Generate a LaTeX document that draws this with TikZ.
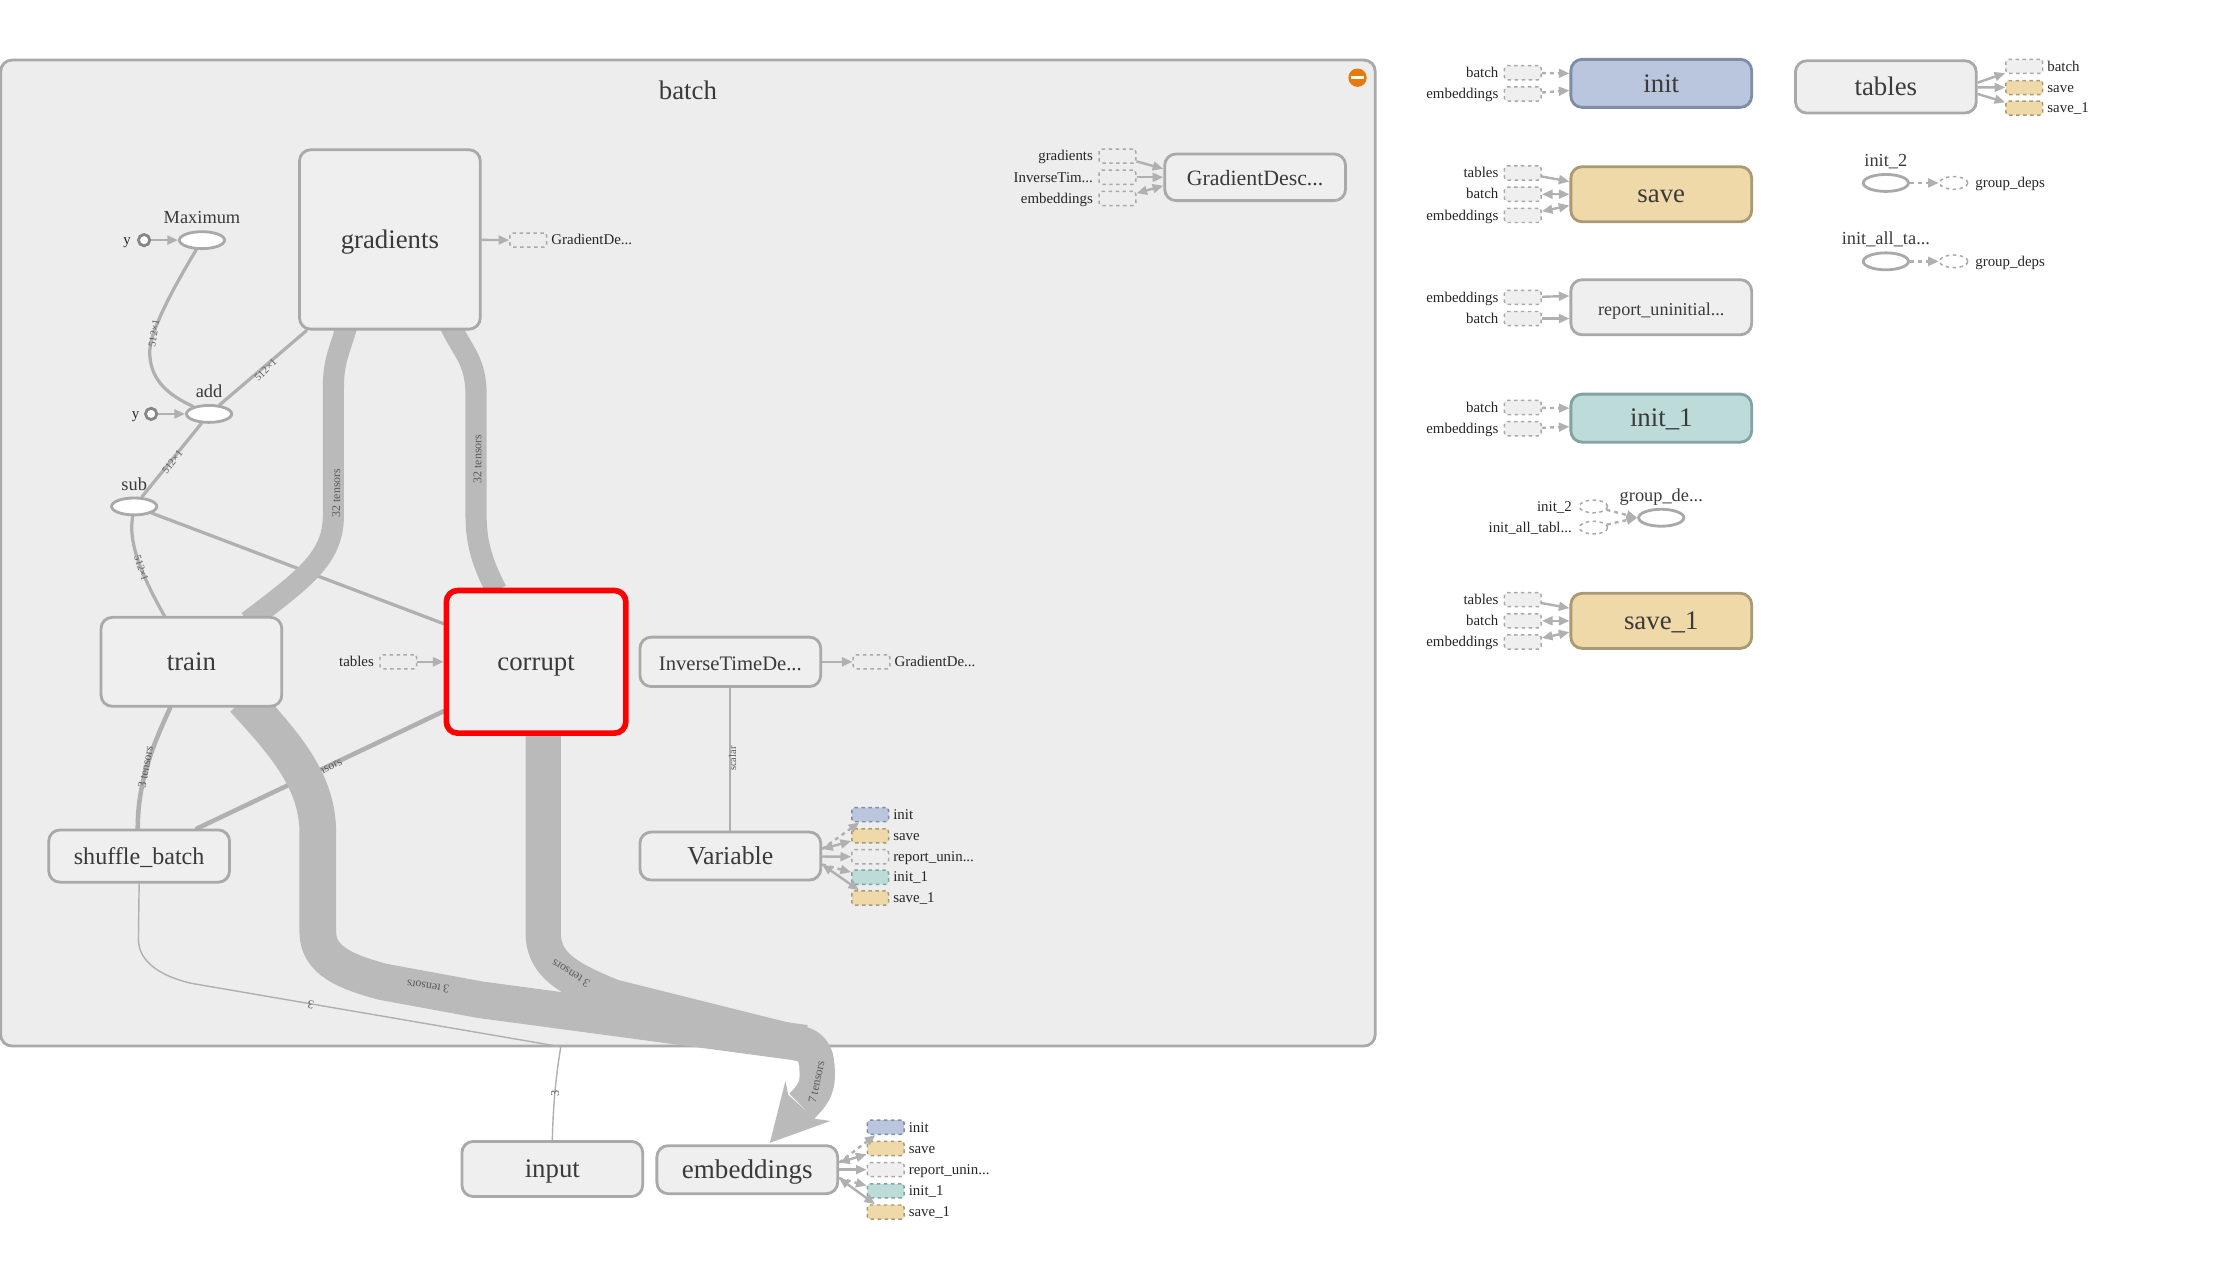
\documentclass[tikz,border=0pt]{standalone}
\usepackage{fontspec}
\setmainfont{Liberation Serif}
\usetikzlibrary{arrows.meta,calc,shapes.geometric}
\pgfdeclarelayer{bgl}\pgfdeclarelayer{thinl}\pgfdeclarelayer{bandl}
\pgfsetlayers{bgl,thinl,bandl,main}
\def\pxu{0.02cm}
\newcommand{\fsz}[1]{\fontsize{#1}{#1}\selectfont}
\definecolor{edgec}{HTML}{B0B0B0}
\definecolor{bandc}{HTML}{BABABA}
\definecolor{strokec}{HTML}{A9A9A9}
\definecolor{nodef}{HTML}{EFEFEF}
\definecolor{batchf}{HTML}{EDEDED}
\definecolor{initf}{HTML}{B9C6DE}\definecolor{inits}{HTML}{7E8CA8}
\definecolor{savef}{HTML}{F0D9A8}\definecolor{saves}{HTML}{A99A76}
\definecolor{inita}{HTML}{BCDBD9}\definecolor{initas}{HTML}{83A3A3}
\definecolor{txtc}{HTML}{3A3A3A}
\definecolor{lblc}{HTML}{5A5A5A}
\tikzset{
 x=0.02cm,y=-0.02cm,
 opbox/.style={draw=strokec,fill=nodef,rounded corners=8*\pxu,line width=2*\pxu,inner sep=0pt,text=txtc,align=center,minimum width=128*\pxu,text height=0.7em,text depth=0pt},
 oval/.style={ellipse,draw=strokec,fill=white,line width=2*\pxu,inner sep=0pt,minimum width=32*\pxu,minimum height=12*\pxu},
 constc/.style={circle,draw=black!47,fill=white,line width=2*\pxu,inner sep=0pt,minimum size=8*\pxu},
 dbox/.style={draw=strokec,dashed,dash pattern=on 1.4pt off 1.4pt,line width=0.6pt,rounded corners=2*\pxu,inner sep=0pt,minimum width=26*\pxu,minimum height=10*\pxu},
 dell/.style={ellipse,draw=strokec,fill=white,dash pattern=on 1.4pt off 1.4pt,line width=0.6pt,inner sep=0pt,minimum width=20*\pxu,minimum height=9*\pxu},
 small/.style={inner sep=0pt,font=\fsz{6},text=black!85,text height=0.68em,text depth=0.3em},
 opl/.style={inner sep=0pt,font=\fsz{7.4},text=txtc,text height=0.68em,text depth=0.1em},
 elab/.style={inner sep=0pt,font=\fsz{4.8},text=lblc},
 elabs/.style={inner sep=0pt,font=\fsz{4.2},text=lblc},
 thinedge/.style={draw=edgec,line width=2.3*\pxu,line cap=round},
 band/.style={draw=bandc,line join=round},
 arr/.style={draw=edgec,line width=1.7*\pxu,-{Triangle[length=0.15cm,width=0.125cm]}},
 arrboth/.style={draw=edgec,line width=1.7*\pxu,{Triangle[length=0.15cm,width=0.125cm]}-{Triangle[length=0.15cm,width=0.125cm]}},
 arrdot/.style={draw=edgec,line width=1.7*\pxu,dash pattern=on 1.6pt off 1.6pt,-{Triangle[length=0.15cm,width=0.125cm,sep=0pt]}},
}
% #1 name, #2 x of box centre, #3 y, #4 box style, #5 text: label to the left / right of box
\newcommand{\ldep}[5]{\node[dbox,#4] (#1) at (#2,#3) {};
 \node[small,anchor=east] (#1t) at (#2-17,#3) {#5};}
\newcommand{\rdep}[5]{\node[dbox,#4] (#1) at (#2,#3) {};
 \node[small,anchor=west] (#1t) at (#2+16,#3) {#5};}
\tikzset{
 fgrey/.style={fill=nodef},
 fback/.style={fill=batchf},
 finit/.style={fill=initf,draw=inits},
 fsave/.style={fill=savef,draw=saves},
 finita/.style={fill=inita,draw=initas},
}
\begin{document}
\begin{tikzpicture}
\useasboundingbox (0,0) rectangle (1568,908.2);
\begin{pgfonlayer}{bgl}
\node[draw=strokec,fill=batchf,rounded corners=8*\pxu,line width=2*\pxu,minimum width=973*\pxu,minimum height=698*\pxu,inner sep=0pt] (batch) at (487,391.5) {};
\end{pgfonlayer}
\node[inner sep=0pt,font=\fsz{10.8},text=txtc] (batchl) at (487,64) {batch};
\node[circle,fill=orange!90!black!95,minimum size=13*\pxu,inner sep=0pt] (collapse) at (961,55) {};
\node[fill=white,minimum width=9*\pxu,minimum height=2.5*\pxu,inner sep=0pt] (collapsebar) at (961,55) {};

% main operator boxes
\node[opbox,minimum height=127*\pxu,font=\fsz{10.8}] (gradients) at (276,169.5) {gradients};
\node[opbox,minimum height=63*\pxu,font=\fsz{10.8}] (train) at (135.5,468.5) {train};
\node[opbox,draw=red,line width=4*\pxu,minimum height=101*\pxu,font=\fsz{10.8},minimum width=127*\pxu] (corrupt) at (379.5,468.5) {corrupt};
\node[opbox,minimum height=35*\pxu,font=\fsz{8.3}] (inverse) at (517,468.5) {InverseTimeDe...};
\node[opbox,minimum height=37*\pxu,font=\fsz{9.7}] (shuffle) at (98.5,606) {shuffle\_batch};
\node[opbox,minimum height=34*\pxu,font=\fsz{10.4}] (variable) at (517,606) {Variable};
\node[opbox,minimum height=39*\pxu,font=\fsz{10.8}] (input) at (391,827.5) {input};
\node[opbox,minimum height=34*\pxu,font=\fsz{10.9}] (embeddings) at (529,828) {embeddings};
\node[opbox,minimum height=33*\pxu,font=\fsz{8.8}] (gdesc) at (888.5,125.5) {GradientDesc...};

% right column
\node[opbox,fill=initf,draw=inits,minimum height=34*\pxu,font=\fsz{10.8}] (init) at (1176,59) {init};
\node[opbox,fill=savef,draw=saves,minimum height=39*\pxu,font=\fsz{10.8}] (save) at (1176,137.5) {save};
\node[opbox,minimum height=39*\pxu,font=\fsz{7.3}] (report) at (1176,217.5) {report\_uninitial...};
\node[opbox,fill=inita,draw=initas,minimum height=34*\pxu,font=\fsz{10.8}] (inita) at (1176,296) {init\_1};
\node[opbox,fill=savef,draw=saves,minimum height=39*\pxu,font=\fsz{10.8}] (savea) at (1176,439.5) {save\_1};
\node[opbox,minimum height=37*\pxu,font=\fsz{10.8}] (tables) at (1335,61.5) {tables};

% ovals
\node[oval] (maximum) at (143,170) {};
\node[opl,font=\fsz{7.4}] (maximuml) at (143,153) {Maximum};
\node[oval] (add) at (148,293) {};
\node[opl] (addl) at (148,276) {add};
\node[oval] (sub) at (95,358.5) {};
\node[opl] (subl) at (95,342) {sub};
\node[constc] (y1) at (102,170) {};
\node[small,anchor=east] (y1l) at (93,170) {y};
\node[constc] (y2) at (107,293) {};
\node[small,anchor=east] (y2l) at (99,293) {y};
\node[oval] (groupdeps) at (1176,366.5) {};
\node[opl] (groupdepsl) at (1176,350) {group\_de...};
\node[oval] (initb) at (1335,129.5) {};
\node[opl] (initbl) at (1335,113) {init\_2};
\node[oval] (initall) at (1335,185) {};
\node[opl] (initalll) at (1335,168) {init\_all\_ta...};

% batch side nodes
\rdep{gd1}{374}{170}{fback}{GradientDe...}
\rdep{gd2}{617}{468.5}{fback}{GradientDe...}
\ldep{tab}{282}{468.5}{fback}{tables}
\ldep{gi1}{791}{110.5}{fback}{gradients}
\ldep{gi2}{791}{125.5}{fback}{InverseTim...}
\ldep{gi3}{791}{140.5}{fback}{embeddings}
\rdep{va}{616}{576.7}{finit}{init}
\rdep{vb}{616}{591.7}{fsave}{save}
\rdep{vc}{616}{606.5}{fback}{report\_unin...}
\rdep{vd}{616}{621}{finita}{init\_1}
\rdep{ve}{616}{635.7}{fsave}{save\_1}
\rdep{ea}{627}{798}{finit}{init}
\rdep{eb}{627}{813}{fsave}{save}
\rdep{ec}{627}{828}{fgrey}{report\_unin...}
\rdep{ed}{627}{843}{finita}{init\_1}
\rdep{ee}{627}{858}{fsave}{save\_1}
% right column side nodes
\ldep{ia}{1078}{51.5}{fgrey}{batch}
\ldep{ib}{1078}{66.5}{fgrey}{embeddings}
\ldep{sa}{1078}{122.5}{fgrey}{tables}
\ldep{sb}{1078}{137.5}{fgrey}{batch}
\ldep{sc}{1078}{152.5}{fgrey}{embeddings}
\ldep{ra}{1078}{210.5}{fgrey}{embeddings}
\ldep{rb}{1078}{225.5}{fgrey}{batch}
\ldep{ja}{1078}{288.5}{fgrey}{batch}
\ldep{jb}{1078}{303.5}{fgrey}{embeddings}
\ldep{ta}{1078}{424.5}{fgrey}{tables}
\ldep{tb}{1078}{439.5}{fgrey}{batch}
\ldep{tc}{1078}{454.5}{fgrey}{embeddings}
\rdep{ba}{1433}{47}{fgrey}{batch}
\rdep{bb}{1433}{62}{fsave}{save}
\rdep{bc}{1433}{76.5}{fsave}{save\_1}
\node[dell] (ga) at (1128,358.5) {};
\node[small,anchor=east] (gat) at (1113,358.5) {init\_2};
\node[dell] (gb) at (1128,373.5) {};
\node[small,anchor=east] (gbt) at (1113,373.5) {init\_all\_tabl...};
\node[dell] (hd) at (1383,129.5) {};
\node[small,anchor=west] (hdt) at (1398,129.5) {group\_deps};
\node[dell] (hf) at (1383,185) {};
\node[small,anchor=west] (hft) at (1398,185) {group\_deps};

% thin edges (under the bands)
\begin{pgfonlayer}{thinl}
\draw[thinedge] (maximum) .. controls (125,200) and (105,235) .. (106,251) .. controls (107,270) and (120,280) .. (add);
\draw[thinedge] (gradients.south west) ++(6,0) -- (add);
\draw[thinedge] (add) -- (sub);
\draw[thinedge] (sub) .. controls (92,378) and (93,395) .. (117,437);
\draw[thinedge] (sub) -- ($(corrupt.west)+(0,-27)$);
\draw[thinedge,line width=3.2*\pxu] ($(train.south)+(-15,0)$) .. controls (107,530) and (97.5,555) .. ($(shuffle.north)+(-1,0)$);
\draw[thinedge,line width=3.2*\pxu] ($(corrupt.west)+(0,35)$) -- ($(shuffle.north)+(41,0)$);
\draw[draw=edgec,line width=1*\pxu] (shuffle.south) -- (98,665) .. controls (98,682) and (116,691.5) .. (135,696) -- (397,741) .. controls (393,765) and (391.5,785) .. (input.north);
\draw[draw=edgec,line width=1.2*\pxu] (inverse.south) -- (variable.north);
\node[elabs,rotate=202] (lsubcorrupt) at (218,403) {512×1};
\node[elab,rotate=26] (lcorruptshuffle) at (228,545) {3 tensors};
\end{pgfonlayer}

% bands
\begin{pgfonlayer}{bandl}
\draw[band,line width=15*\pxu] ($(gradients.south)+(-30,-5)$) .. controls (240,250) and (236,255) .. (236,275) -- (236,365) .. controls (236,395) and (215,410) .. ($(train.north)+(40,4)$);
\draw[band,line width=15*\pxu] ($(gradients.south)+(42,-5)$) .. controls (328,250) and (337,255) .. (337,280) -- (337,365) .. controls (337,385) and (342,400) .. ($(corrupt.north)+(-28,2)$);
\draw[band,line width=26*\pxu] ($(train.south)+(37,-6)$) .. controls (205,530) and (225,555) .. (225,590) -- (225,660) .. controls (225,680) and (245,688) .. (271,695) -- (340,707.7) -- (570,738.5);
\draw[band,line width=25*\pxu] ($(corrupt.south)+(5,-8)$) -- (384.5,660) .. controls (384.5,682) and (400,692) .. (434,705.7) -- (565,738.4) .. controls (578,741) and (578.5,750) .. (578.5,762) .. controls (578.5,770) and (575,776) .. (567.5,783);
\coordinate (headtip) at ($(embeddings.north)+(16,-1)$);
\fill[bandc] (556,765.2) -- (558,775) -- (577,792) -- (588,793.5) -- (headtip) -- cycle;
\end{pgfonlayer}

% edge labels
\node[elabs,rotate=80] (l1) at (109,236) {512×1};
\node[elabs,rotate=45] (l2) at (188,262) {512×1};
\node[elabs,rotate=52] (l3) at (122,327) {512×1};
\node[elabs,rotate=-72] (l4) at (100,402) {512×1};
\node[elab,rotate=90] (l5) at (238,349) {32 tensors};
\node[elab,rotate=90] (l6) at (338,325) {32 tensors};
\node[elab,rotate=80] (l7) at (103,543) {3 tensors};
\node[elabs,rotate=90] (l8) at (518.5,537) {scalar};
\node[elab,rotate=172] (l9) at (303,698.5) {3 tensors};
\node[elab,rotate=148] (l10) at (404,689) {3 tensors};
\node[elab,rotate=78] (l11) at (578,766) {7 tensors};
\node[elab,rotate=170] (l12) at (220,711) {3};
\node[elab,rotate=88] (l13) at (393,774) {3};

% dependency arrows
\draw[arr] (y1) -- (maximum);
\draw[arr] (y2) -- (add);
\draw[arr] (gradients) -- (gd1);
\draw[arr] (inverse) -- (gd2);
\draw[arr] (tab) -- (corrupt);
\draw[arr] (gi1) -- ($(gdesc.west)+(0,-6)$);
\draw[arr] (gi2) -- (gdesc.west);
\draw[arrboth] (gi3) -- ($(gdesc.west)+(0,6)$);
\coordinate (vup) at ($(variable.east)+(0,-5)$);
\coordinate (vdn) at ($(variable.east)+(0,6)$);
\draw[arrdot] (vup) -- (va);
\draw[arrboth] (vup) -- (vb);
\draw[arr] (variable) -- (vc);
\draw[arrdot] (vdn) -- (vd);
\draw[arrboth] (vdn) -- (ve);
\coordinate (eup) at ($(embeddings.east)+(0,-5)$);
\coordinate (edn) at ($(embeddings.east)+(0,6)$);
\draw[arrdot] (eup) -- (ea);
\draw[arrboth] (eup) -- (eb);
\draw[arr] (embeddings) -- (ec);
\draw[arrdot] (edn) -- (ed);
\draw[arrboth] (edn) -- (ee);
\draw[arrdot] (ia) -- ($(init.west)+(0,-7)$);
\draw[arrdot] (ib) -- ($(init.west)+(0,5)$);
\draw[arr] (sa) -- ($(save.west)+(0,-9)$);
\draw[arrboth] (sb) -- (save);
\draw[arrboth] (sc) -- ($(save.west)+(0,8)$);
\draw[arr] (ra) -- ($(report.west)+(0,-8)$);
\draw[arr] (rb) -- ($(report.west)+(0,8)$);
\draw[arrdot] (ja) -- ($(inita.west)+(0,-7)$);
\draw[arrdot] (jb) -- ($(inita.west)+(0,6)$);
\draw[arr] (ta) -- ($(savea.west)+(0,-9)$);
\draw[arrboth] (tb) -- (savea);
\draw[arrboth] (tc) -- ($(savea.west)+(0,8)$);
\draw[arr] ($(tables.east)+(0,-3)$) -- (ba);
\draw[arr] (tables) -- (bb);
\draw[arr] ($(tables.east)+(0,5)$) -- (bc);
\draw[arrdot] (ga) -- ($(groupdeps.west)+(0,0)$);
\draw[arrdot] (gb) -- ($(groupdeps.west)+(0,0)$);
\draw[arrdot] (initb) -- (hd);
\draw[arrdot] (initall) -- (hf);
\end{tikzpicture}
\end{document}
